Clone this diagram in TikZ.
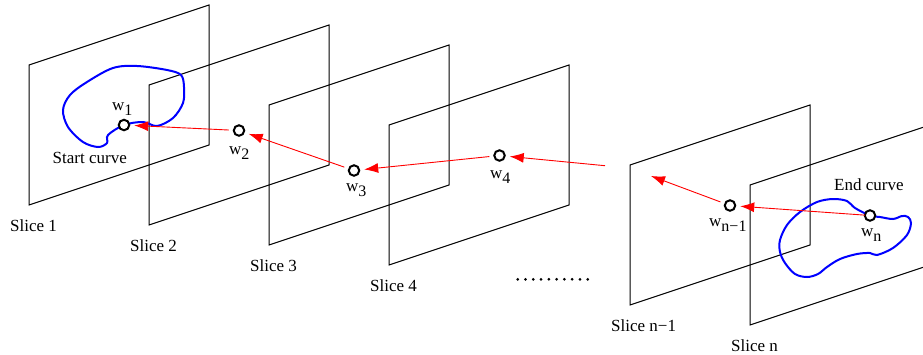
\documentclass[tikz,border=0pt]{standalone}
\usepackage{fontspec}
\setmainfont{Liberation Serif}
\usetikzlibrary{arrows.meta}
\newcommand{\wlab}[1]{w\raisebox{-5pt}{\fontsize{16}{16}\selectfont #1}}
\tikzset{
  slicelab/.style={anchor=base west, inner sep=0pt, font=\fontsize{17}{20}\selectfont},
  wpoint/.style={circle, draw=black, line width=2pt, fill=white, inner sep=0pt, minimum size=10.5pt, outer sep=5pt},
  redarrow/.style={draw=red, line width=0.9pt, -{Latex[length=14pt, width=10pt]}},
  bluecurve/.style={draw=blue, line width=2pt}
}
\begin{document}
\begin{tikzpicture}[x=1pt,y=-1pt]
\clip (0,0) rectangle (923,354);
% slices
\foreach \sx/\sy/\sname in {29/65/Slice 1, 149/85/Slice 2, 269/105/Slice 3, 389/125/Slice 4, 630/165/Slice n\textminus 1, 750/185/Slice n}{
  \draw[line width=1pt] (\sx,\sy) -- ++(180,-60) -- ++(0,140) -- ++(-180,60) -- cycle;
  \node[slicelab] at (\sx-19,\sy+166) {\sname};
}
% curves
\draw[bluecurve] plot[smooth cycle, tension=0.55] coordinates {(124,125) (143,122) (157,126) (173,118) (183,103) (184,87) (181,75) (167,70) (137,66) (113,68) (87,82) (70,95) (63,110) (68,127) (83,142) (98,147) (107,143) (108,135)};
\draw[bluecurve] plot[smooth cycle, tension=0.55] coordinates {(870,215.5) (880,217) (893,219) (902,216) (908,217) (911,223) (907,235) (893,248) (877,255) (870,253) (857,254) (840,259) (827,267) (818,274) (807,277) (795,274) (785,263) (780,252) (780,240) (787,225) (800,212) (817,202) (833,199) (847,201) (855,208)};
% points
\node[wpoint] (w1) at (124,125) {};
\node[wpoint] (w2) at (239,130.5) {};
\node[wpoint] (w3) at (354,170.5) {};
\node[wpoint] (w4) at (499.5,155.5) {};
\node[wpoint] (wm) at (730,205.5) {};
\node[wpoint] (wn) at (870,215.5) {};
\coordinate (gapr) at (605,165.7);
\coordinate (gapl) at (651,176);
% arrows
\draw[redarrow] (w2) -- (w1);
\draw[redarrow] (w3) -- (w2);
\draw[redarrow] (w4) -- (w3);
\draw[redarrow] (gapr) -- (w4);
\draw[redarrow] (wm) -- (gapl);
\draw[redarrow, shorten <=-5pt] (wn) -- (wm);
% labels
\node[slicelab] (l1) at (112,110) {\wlab{1}};
\node[slicelab] (l2) at (229,154) {\wlab{2}};
\node[slicelab] (l3) at (346,191) {\wlab{3}};
\node[slicelab] (l4) at (490,178) {\wlab{4}};
\node[slicelab] (lm) at (709,226) {\wlab{n\textminus 1}};
\node[slicelab] (ln) at (861,236) {\wlab{n}};
\node[slicelab] (startlab) at (52.5,163.5) {Start curve};
\node[slicelab] (endlab) at (834,190.7) {End curve};
% dots
\foreach \i in {0,...,9}
  \fill (517.7+\i*7.78,279.3) circle (1.5);
\end{tikzpicture}
\end{document}
